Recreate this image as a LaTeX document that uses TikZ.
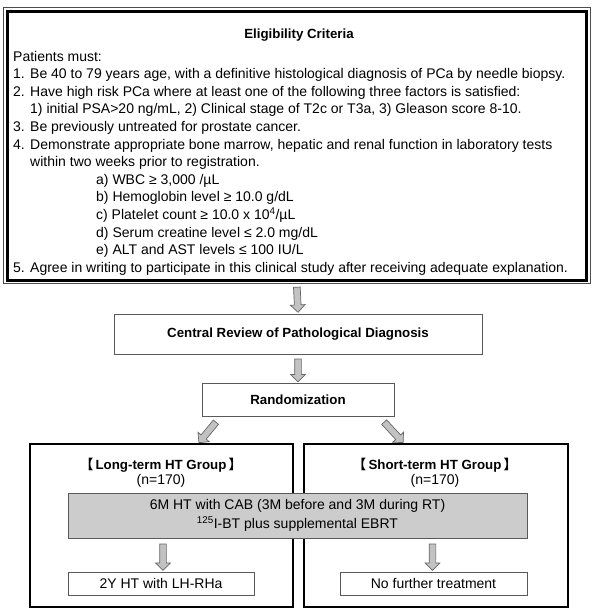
\documentclass[tikz,border=0pt]{standalone}
\usepackage{fontspec}
\setmainfont{Liberation Sans}
\newfontfamily\cjk{Noto Sans CJK SC}
\usepackage{array}
\usetikzlibrary{calc}
\usetikzlibrary{shapes.arrows}
\definecolor{arrowfill}{gray}{0.76}
\definecolor{arrowline}{gray}{0.4}
\definecolor{boxline}{gray}{0.35}
\definecolor{treatfill}{gray}{0.8}

\begin{document}
\begin{tikzpicture}[x=1pt, y=-1pt,
    every node/.style={font=\fontsize{14}{17.6}\selectfont, inner sep=0pt},
    boldtext/.style={font=\fontsize{13.3}{17.6}\selectfont\bfseries},
    flowbox/.style={draw=boxline, line width=0.8pt},
    groupbox/.style={draw=black, line width=1.3pt, minimum width=263, minimum height=163},
    treatbox/.style={draw=boxline, fill=treatfill, line width=0.8pt},
    fatarrow/.style={to path={let \p1=(\tikztostart), \p2=(\tikztotarget),
        \n1={atan2(\y2-\y1,\x2-\x1)}, \n2={veclen(\x2-\x1,\y2-\y1)} in
        ($(\p1)!0.5!(\p2)$) node[single arrow, draw=arrowline, fill=arrowfill, line width=0.7pt,
        rotate=\n1, minimum height=\n2, inner sep=3pt, single arrow head extend=4pt] {}}}]
\useasboundingbox (0,0) rectangle (600,614);

% eligibility criteria
\node[draw, line width=3pt, minimum width=579.5, minimum height=269] (elig) at (296.75,145.5) {};
\draw[gray!60!black, line width=0.6pt] ([shift={(-2.5,-2.5)}]elig.north west) rectangle ([shift={(2,1.5)}]elig.south east);
\node[boldtext] (eligtitle) at (299,35) {Eligibility Criteria};
\node[anchor=north west] (crit) at (13,48.5) {%
\begin{tabular}{@{}p{17pt}@{}l@{}}
\multicolumn{2}{@{}l@{}}{Patients must:}\\
1. & Be 40 to 79 years age, with a definitive histological diagnosis of PCa by needle biopsy.\\
2. & Have high risk PCa where at least one of the following three factors is satisfied:\\
   & 1) initial PSA>20 ng/mL, 2) Clinical stage of T2c or T3a, 3) Gleason score 8-10.\\
3. & Be previously untreated for prostate cancer.\\
4. & Demonstrate appropriate bone marrow, hepatic and renal function in laboratory tests\\
   & within two weeks prior to registration.\\
   & \hspace*{66pt}a) WBC ≥ 3,000 /µL\\
   & \hspace*{66pt}b) Hemoglobin level ≥ 10.0 g/dL\\
   & \hspace*{66pt}c) Platelet count ≥ 10.0 x 10\textsuperscript{4}/µL\\
   & \hspace*{66pt}d) Serum creatine level ≤ 2.0 mg/dL\\
   & \hspace*{66pt}e) ALT and AST levels ≤ 100 IU/L\\
5. & Agree in writing to participate in this clinical study after receiving adequate explanation.
\end{tabular}};

\node[flowbox, boldtext, minimum width=368, minimum height=40] (central) at (298,334) {Central Review of Pathological Diagnosis};
\node[flowbox, boldtext, minimum width=192, minimum height=33] (rand) at (298,400) {Randomization};

% two arms
\node[groupbox] (long) at (161.5,525.5) {};
\node[groupbox, minimum width=264] (short) at (436,525.5) {};
\node[boldtext] (longtitle) at (161,465) {{\cjk 【}\,Long-term HT Group\,{\cjk 】}};
\node (longn) at (161,481) {(n=170)};
\node[boldtext] (shorttitle) at (435,465) {{\cjk 【}\,Short-term HT Group\,{\cjk 】}};
\node (shortn) at (435,481) {(n=170)};
\node[treatbox, minimum width=459, minimum height=45, align=center, font=\fontsize{14}{19}\selectfont] (treat) at (297.5,515.5)
  {6M HT with CAB (3M before and 3M during RT)\\\textsuperscript{125}I-BT plus supplemental EBRT};
\node[flowbox, minimum width=186, minimum height=23] (lhrh) at (161,583.5) {2Y HT with LH-RHa};
\node[flowbox, minimum width=187, minimum height=23] (nofurther) at (433.5,583.5) {No further treatment};

% arrows
\path ($(elig.south)+(0,4)$) to[fatarrow] ($(central.north)+(0,-3)$);
\path ($(central.south)+(0,3)$) to[fatarrow] ($(rand.north)+(0,-3)$);
\path ($(rand.south)+(-81,4)$) to[fatarrow] ($(long.north)+(38.5,-2)$);
\path ($(rand.south)+(85,4)$) to[fatarrow] ($(short.north)+(-34,-2)$);
\path ($(treat.south -| lhrh.north)+(2,4)$) to[fatarrow] ($(lhrh.north)+(2,-3)$);
\path ($(treat.south -| nofurther.north)+(-1,4)$) to[fatarrow] ($(nofurther.north)+(-1,-3)$);
\end{tikzpicture}
\end{document}
